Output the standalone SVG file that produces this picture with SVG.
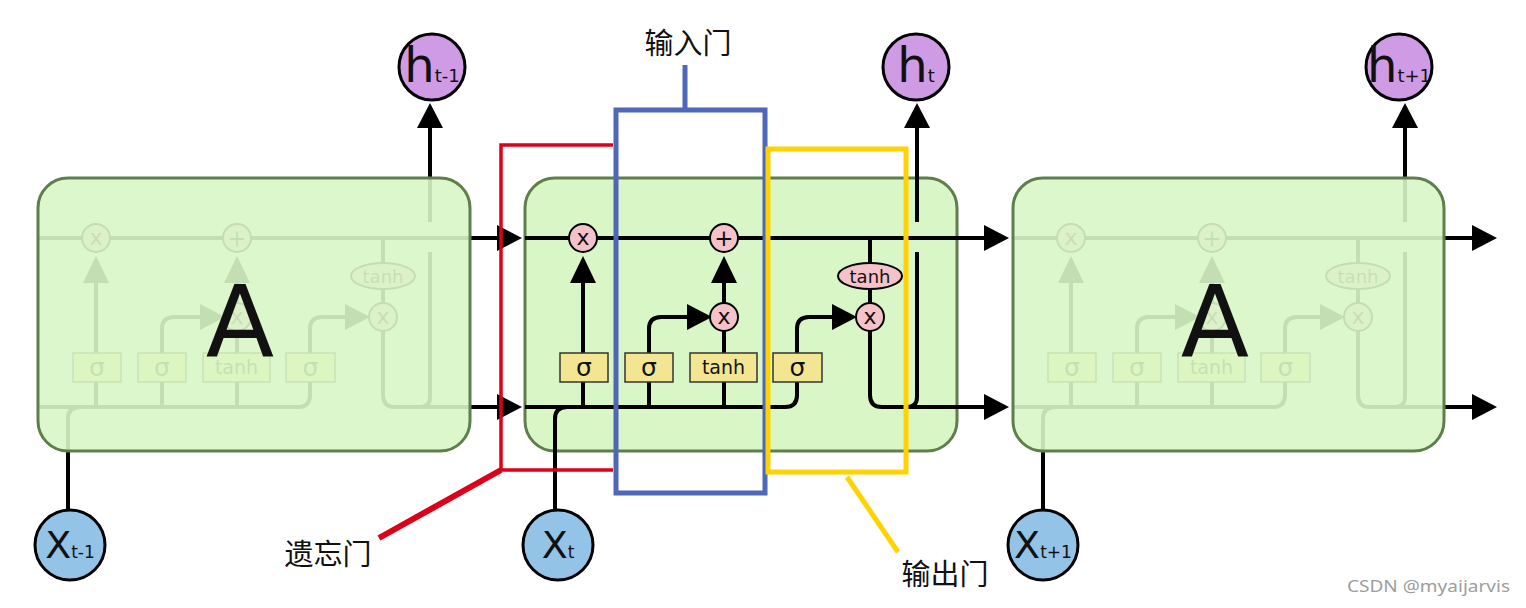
<svg xmlns="http://www.w3.org/2000/svg" xmlns:xlink="http://www.w3.org/1999/xlink" width="1526" height="608" viewBox="0 0 1526 608">
<style>
.cellbox{fill:#d9f6c6;stroke:#5e7f4b;stroke-width:3}
.ghost{fill:#d9f6c6;fill-opacity:0.9;stroke:#5e7f4b;stroke-width:3}
.wire{fill:none;stroke:#000;stroke-width:4}
.op{fill:#f6c2c9;stroke:#000;stroke-width:2}
.gate{fill:#f2e693;stroke:#333;stroke-width:1.5}
.sym{font-family:"DejaVu Sans",sans-serif;fill:#111;text-anchor:middle}
.big{font-family:"DejaVu Sans",sans-serif;font-size:100px;fill:#111;text-anchor:middle}
.hnode{fill:#cf9be5;stroke:#000;stroke-width:3}
.xnode{fill:#93c3e7;stroke:#000;stroke-width:3}
.lbl{font-family:"DejaVu Sans",sans-serif;fill:#111;text-anchor:middle}
.cn{font-family:"Noto Sans CJK SC","Noto Sans",sans-serif;font-size:29px;fill:#111;text-anchor:middle}
</style>
<defs>
<g id="wires">
<path class="wire" d="M0,238 H461"/>
<path class="wire" d="M0,407 H260 Q272,407 272,395 V382"/>
<path class="wire" d="M30,510 V419 Q30,407 42,407"/>
<path class="wire" d="M58,382 V407 M124,382 V407 M199,382 V407"/>
<path class="wire" d="M58,353 V281"/>
<path class="wire" d="M124,353 V329 Q124,317 136,317 H164"/>
<path class="wire" d="M199,353 V331 M199,303 V281"/>
<path class="wire" d="M272,353 V329 Q272,317 284,317 H309"/>
<path class="wire" d="M345,238 V303"/>
<path class="wire" d="M345,331 V395 Q345,407 357,407 H461"/>
<path class="wire" d="M392,252 V397 Q392,407 382,407 M392,222 V126"/>
<polygon points="459,225 484,238 459,251"/>
<polygon points="459,394 484,407 459,420"/>
<polygon points="45,283 58,256 71,283"/>
<polygon points="186,283 199,256 212,283"/>
<polygon points="162,304 187,317 162,330"/>
<polygon points="307,304 332,317 307,330"/>
<polygon points="379,128 392,103 405,128"/>
</g>
<g id="gates">
<circle class="op" cx="58" cy="238" r="14"/>
<text class="sym" x="58" y="245" font-size="22">x</text>
<circle class="op" cx="199" cy="238" r="14"/>
<text class="sym" x="199" y="246" font-size="23">+</text>
<circle class="op" cx="199" cy="317" r="14"/>
<text class="sym" x="199" y="324" font-size="22">x</text>
<circle class="op" cx="345" cy="317" r="14"/>
<text class="sym" x="345" y="324" font-size="22">x</text>
<ellipse class="op" cx="345" cy="276" rx="32" ry="13"/>
<text class="sym" x="345" y="283" font-size="18">tanh</text>
<rect class="gate" x="35" y="353" width="48" height="29"/>
<text class="sym" x="59" y="376" font-size="25">σ</text>
<rect class="gate" x="100" y="353" width="48" height="29"/>
<text class="sym" x="124" y="376" font-size="25">σ</text>
<rect class="gate" x="165" y="353" width="67" height="29"/>
<text class="sym" x="198.5" y="374" font-size="19">tanh</text>
<rect class="gate" x="248" y="353" width="49" height="29"/>
<text class="sym" x="272.5" y="376" font-size="25">σ</text>
</g>
</defs>

<g id="cell-t-bg">
<rect class="cellbox" x="525" y="178" width="432" height="273" rx="30"/>
</g>

<g id="connectors">
<use xlink:href="#wires" href="#wires" x="38" y="0"/>
<use xlink:href="#wires" href="#wires" x="525" y="0"/>
<use xlink:href="#wires" href="#wires" x="1013" y="0"/>
</g>

<g id="cell-t-gates">
<use xlink:href="#gates" href="#gates" x="525" y="0"/>
</g>

<g id="cell-prev">
<use xlink:href="#gates" href="#gates" x="38" y="0"/>
<rect class="ghost" x="38" y="178" width="432" height="273" rx="30"/>
<text class="big" x="240" y="357">A</text>
</g>

<g id="cell-next">
<use xlink:href="#gates" href="#gates" x="1013" y="0"/>
<rect class="ghost" x="1013" y="178" width="431" height="273" rx="30"/>
<text class="big" x="1215" y="357">A</text>
</g>

<g id="h-prev">
<circle class="hnode" cx="432" cy="67" r="33"/>
<text class="lbl" x="432" y="82" font-size="48">h<tspan font-size="18">t-1</tspan></text>
</g>
<g id="h-t">
<circle class="hnode" cx="916" cy="67" r="33"/>
<text class="lbl" x="916" y="82" font-size="48">h<tspan font-size="18">t</tspan></text>
</g>
<g id="h-next">
<circle class="hnode" cx="1399" cy="67" r="33"/>
<text class="lbl" x="1399" y="82" font-size="48">h<tspan font-size="18">t+1</tspan></text>
</g>

<g id="x-prev">
<circle class="xnode" cx="70" cy="545" r="35"/>
<text class="lbl" x="70" y="558" font-size="38">X<tspan font-size="17">t-1</tspan></text>
</g>
<g id="x-t">
<circle class="xnode" cx="558" cy="545" r="35"/>
<text class="lbl" x="558" y="558" font-size="38">X<tspan font-size="17">t</tspan></text>
</g>
<g id="x-next">
<circle class="xnode" cx="1043" cy="545" r="35"/>
<text class="lbl" x="1043" y="558" font-size="38">X<tspan font-size="17">t+1</tspan></text>
</g>

<g id="forget-gate">
<polyline points="613,145 501,145 501,470 613,470" fill="none" stroke="#dc0019" stroke-width="3.5"/>
<line x1="501" y1="470" x2="379" y2="538" stroke="#dc0019" stroke-width="6"/>
<text class="cn" x="328" y="565">遗忘门</text>
</g>
<g id="input-gate">
<rect x="616" y="110" width="149" height="383" fill="none" stroke="#4f67b8" stroke-width="5"/>
<line x1="685" y1="65" x2="685" y2="110" stroke="#4f67b8" stroke-width="5"/>
<text class="cn" x="688" y="54">输入门</text>
</g>
<g id="output-gate">
<rect x="768" y="149" width="138" height="323" fill="none" stroke="#ffd200" stroke-width="5"/>
<line x1="847" y1="477" x2="898" y2="552" stroke="#ffd200" stroke-width="5"/>
<text class="cn" x="945" y="585">输出门</text>
</g>

<text x="1347" y="592" font-family="Noto Sans, sans-serif" font-size="17" fill="#9d9d9d" textLength="163" lengthAdjust="spacingAndGlyphs">CSDN @myaijarvis</text>
</svg>
